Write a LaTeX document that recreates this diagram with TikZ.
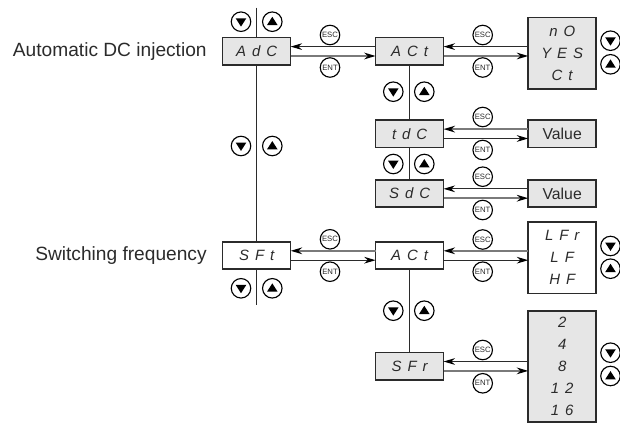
\documentclass[tikz,border=0pt]{standalone}
\usepackage{fontspec}
\setmainfont{Liberation Sans}
\newfontfamily\segfont[LetterSpace=40]{Liberation Sans}
\usetikzlibrary{arrows.meta}
\definecolor{panelgrey}{HTML}{E6E6E6}
\definecolor{linedark}{HTML}{2B2B2B}
\definecolor{linegrey}{HTML}{7A7A7A}
\tikzset{
  panel/.style={draw=linedark,line width=0.9pt,fill=white,inner sep=0,outer sep=0,
    minimum width=1.36cm,minimum height=0.55cm,align=center,text=linedark,
    font=\fontsize{8.5}{12.6}\selectfont\segfont\itshape},
  greypanel/.style={panel,fill=panelgrey},
  valuetext/.style={font=\fontsize{9}{11}\selectfont\rmfamily\upshape},
  sidelabel/.style={left,inner sep=0,text=linedark,font=\fontsize{10.9}{13}\selectfont},
  keybtn/.style={circle,draw=black,line width=0.65pt,fill=white,minimum size=0.39cm,inner sep=0,
    text=linedark,font=\fontsize{4.4}{5}\selectfont},
  keydown/.style={keybtn,path picture={\fill [black] (path picture bounding box.center)
    ++(-3pt,1.9pt) -- ++(6pt,0) -- ++(-3pt,-4.7pt) -- cycle;}},
  keyup/.style={keybtn,path picture={\fill [black] (path picture bounding box.center)
    ++(-3pt,-1.9pt) -- ++(6pt,0) -- ++(-3pt,4.7pt) -- cycle;}},
  stem/.style={draw=linedark,line width=0.6pt},
  blackline/.style={draw=linedark,line width=0.6pt,-{Stealth[length=6.5pt,width=3.8pt,black]}},
  greyline/.style={draw=linegrey,line width=1pt,-{Stealth[length=6.5pt,width=3.8pt,black]}},
  hi/.style={yshift=2.67pt},
  lo/.style={yshift=-2.67pt}
}
\begin{document}
\begin{tikzpicture}[x=0.02cm,y=-0.02cm]
\useasboundingbox (0,0) rectangle (620,423);

% first column
\node [greypanel] (AdC) at (256.7,51.3) {AdC};
\node [panel] (SFt) at (256.7,255.5) {SFt};
\node [sidelabel] (autolabel) at (207,51.3) {Automatic DC injection};
\node [sidelabel] (switchlabel) at (207,255.5) {Switching frequency};
\coordinate (stemtop) at (256.7,7.5);
\coordinate (stembottom) at (256.7,305);

% second column
\node [greypanel] (ACta) at (409.6,51.3) {ACt};
\node [greypanel] (tdC) at (409.6,133.8) {tdC};
\node [greypanel] (SdC) at (409.6,193.5) {SdC};
\node [panel] (ACtb) at (409.6,255.5) {ACt};
\node [greypanel] (SFr) at (409.6,366.2) {SFr};

% third column
\node [greypanel,minimum height=1.434cm] (choicea) at (562.2,53.2) {nO\\YES\\Ct};
\node [greypanel,valuetext] (valuea) at (562.2,133.8) {Value};
\node [greypanel,valuetext] (valueb) at (562.2,193.5) {Value};
\node [panel,minimum height=1.426cm] (choiceb) at (562.2,257.7) {LFr\\LF\\HF};
\node [greypanel,minimum height=2.23cm] (choicec) at (562.2,366.5) {2\\4\\8\\12\\16};

% stems
\draw [stem] (stemtop) -- (AdC);
\draw [stem] (AdC) -- (SFt);
\draw [stem] (SFt) -- (stembottom);
\draw [stem] (ACta) -- (tdC);
\draw [stem] (tdC) -- (SdC);
\draw [stem] (ACtb) -- (SFr);

% esc and ent lines
\draw [blackline] ([hi]ACta.west) -- ([hi]AdC.east);
\draw [greyline] ([lo]AdC.east) -- ([lo]ACta.west);
\draw [blackline] ([hi]choicea.west |- ACta.east) -- ([hi]ACta.east);
\draw [greyline] ([lo]ACta.east) -- ([lo]choicea.west |- ACta.east);
\draw [greyline] ([hi]valuea.west) -- ([hi]tdC.east);
\draw [blackline] ([lo]tdC.east) -- ([lo]valuea.west);
\draw [blackline] ([hi]valueb.west) -- ([hi]SdC.east);
\draw [greyline] ([lo]SdC.east) -- ([lo]valueb.west);
\draw [greyline] ([hi]ACtb.west) -- ([hi]SFt.east);
\draw [blackline] ([lo]SFt.east) -- ([lo]ACtb.west);
\draw [greyline] ([hi]choiceb.west |- ACtb.east) -- ([hi]ACtb.east);
\draw [blackline] ([lo]ACtb.east) -- ([lo]choiceb.west |- ACtb.east);
\draw [blackline] ([hi]choicec.west |- SFr.east) -- ([hi]SFr.east);
\draw [greyline] ([lo]SFr.east) -- ([lo]choicec.west |- SFr.east);

% esc and ent keys
\node [keybtn] (esca) at (330,35) {ESC};
\node [keybtn] (enta) at (330,67.5) {ENT};
\node [keybtn] (escb) at (482.7,35) {ESC};
\node [keybtn] (entb) at (482.7,67.5) {ENT};
\node [keybtn] (escc) at (482.7,117) {ESC};
\node [keybtn] (entc) at (482.7,150) {ENT};
\node [keybtn] (escd) at (482.7,176.7) {ESC};
\node [keybtn] (entd) at (482.7,210) {ENT};
\node [keybtn] (esce) at (330,239.3) {ESC};
\node [keybtn] (ente) at (330,271.7) {ENT};
\node [keybtn] (escf) at (482.7,239.5) {ESC};
\node [keybtn] (entf) at (482.7,271.7) {ENT};
\node [keybtn] (escg) at (482.7,350) {ESC};
\node [keybtn] (entg) at (482.7,383.3) {ENT};

% down and up keys
\node [keydown] (dna) at (241,21.7) {};
\node [keyup] (upa) at (272.3,21.7) {};
\node [keydown] (dnb) at (241,146) {};
\node [keyup] (upb) at (272.3,146) {};
\node [keydown] (dnc) at (241,288.3) {};
\node [keyup] (upc) at (272.3,288.3) {};
\node [keydown] (dnd) at (393.3,91.7) {};
\node [keyup] (upd) at (424.3,91.7) {};
\node [keydown] (dne) at (393.3,164) {};
\node [keyup] (upe) at (424.3,164) {};
\node [keydown] (dnf) at (393.3,310.7) {};
\node [keyup] (upf) at (424.3,310.7) {};
\node [keydown] (dng) at (610.5,40.7) {};
\node [keyup] (upg) at (610.5,64.3) {};
\node [keydown] (dnh) at (610.5,246) {};
\node [keyup] (uph) at (610.5,268.7) {};
\node [keydown] (dni) at (610.5,352.7) {};
\node [keyup] (upi) at (610.5,376) {};
\end{tikzpicture}
\end{document}
